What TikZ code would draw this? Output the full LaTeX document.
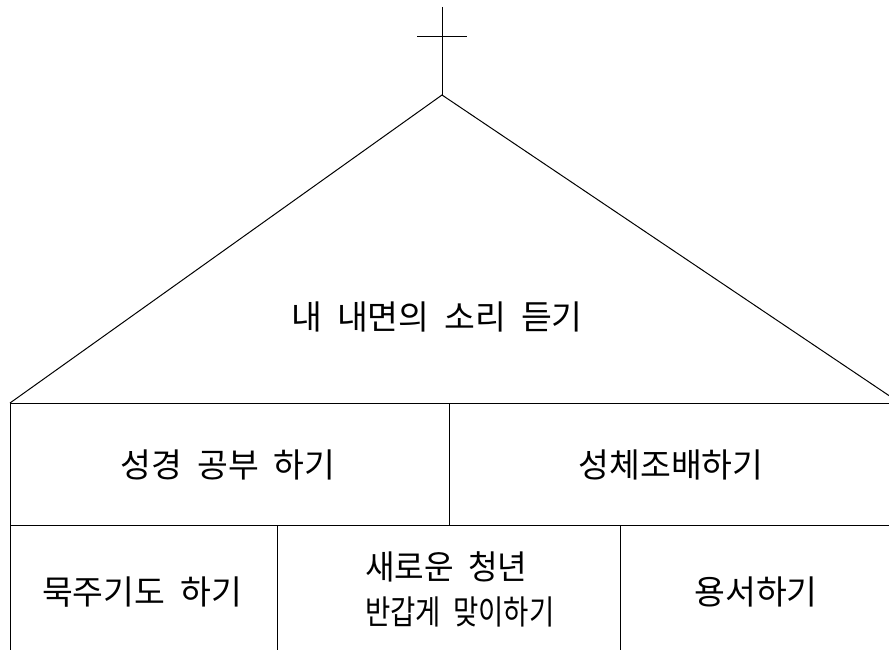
\documentclass[tikz,border=0pt]{standalone}
\usepackage{fontspec}
\usepackage{graphicx}
\setmainfont{Noto Sans CJK KR}[WordSpace=2]
\begin{document}
\begin{tikzpicture}[x=1pt,y=-1pt,
  ln/.style={line width=1pt,black},
  lbl/.style={font=\fontsize{33.5}{45}\selectfont,inner sep=0pt}]
\clip (0,0) rectangle (889,650);
\useasboundingbox (0,0) rectangle (889,650);
% cross
\coordinate (top) at (442,7);
\coordinate (peak) at (442,95);
\coordinate (barL) at (417,37);
\coordinate (barR) at (467,37);
\draw[ln] (top) -- (peak);
\draw[ln] (barL) -- (barR);
% roof
\coordinate (eaveL) at (10,403);
\coordinate (eaveR) at (900,403);
\draw[ln] (eaveL) -- (peak) -- (eaveR);
% walls
\coordinate (wallTR) at (889,403);
\coordinate (wallBL) at (10,650);
\coordinate (midL) at (10,525);
\coordinate (midR) at (889,525);
\draw[ln] (eaveL) -- (wallTR);
\draw[ln] (eaveL) -- (wallBL);
\draw[ln] (midL) -- (midR);
\coordinate (v1t) at (449,403);
\coordinate (v1b) at (449,525);
\draw[ln] (v1t) -- (v1b);
\coordinate (v2t) at (277,525);
\coordinate (v2b) at (277,650);
\draw[ln] (v2t) -- (v2b);
\coordinate (v3t) at (620,525);
\coordinate (v3b) at (620,650);
\draw[ln] (v3t) -- (v3b);
% labels
\node[lbl] (roof) at (437,317) {내 내면의 소리 듣기};
\node[lbl] (bible) at (228,465) {성경 공부 하기};
\node[lbl] (adore) at (671,465) {성체조배하기};
\node[lbl] (rosary) at (142,592) {묵주기도 하기};
\node[lbl,align=left,anchor=west] (welcome) at (365,589) {\scalebox{0.96}[1]{새로운 청년}\\\scalebox{0.82}[1]{반갑게 맞이하기}};
\node[lbl] (forgive) at (756,592) {용서하기};
\end{tikzpicture}
\end{document}
